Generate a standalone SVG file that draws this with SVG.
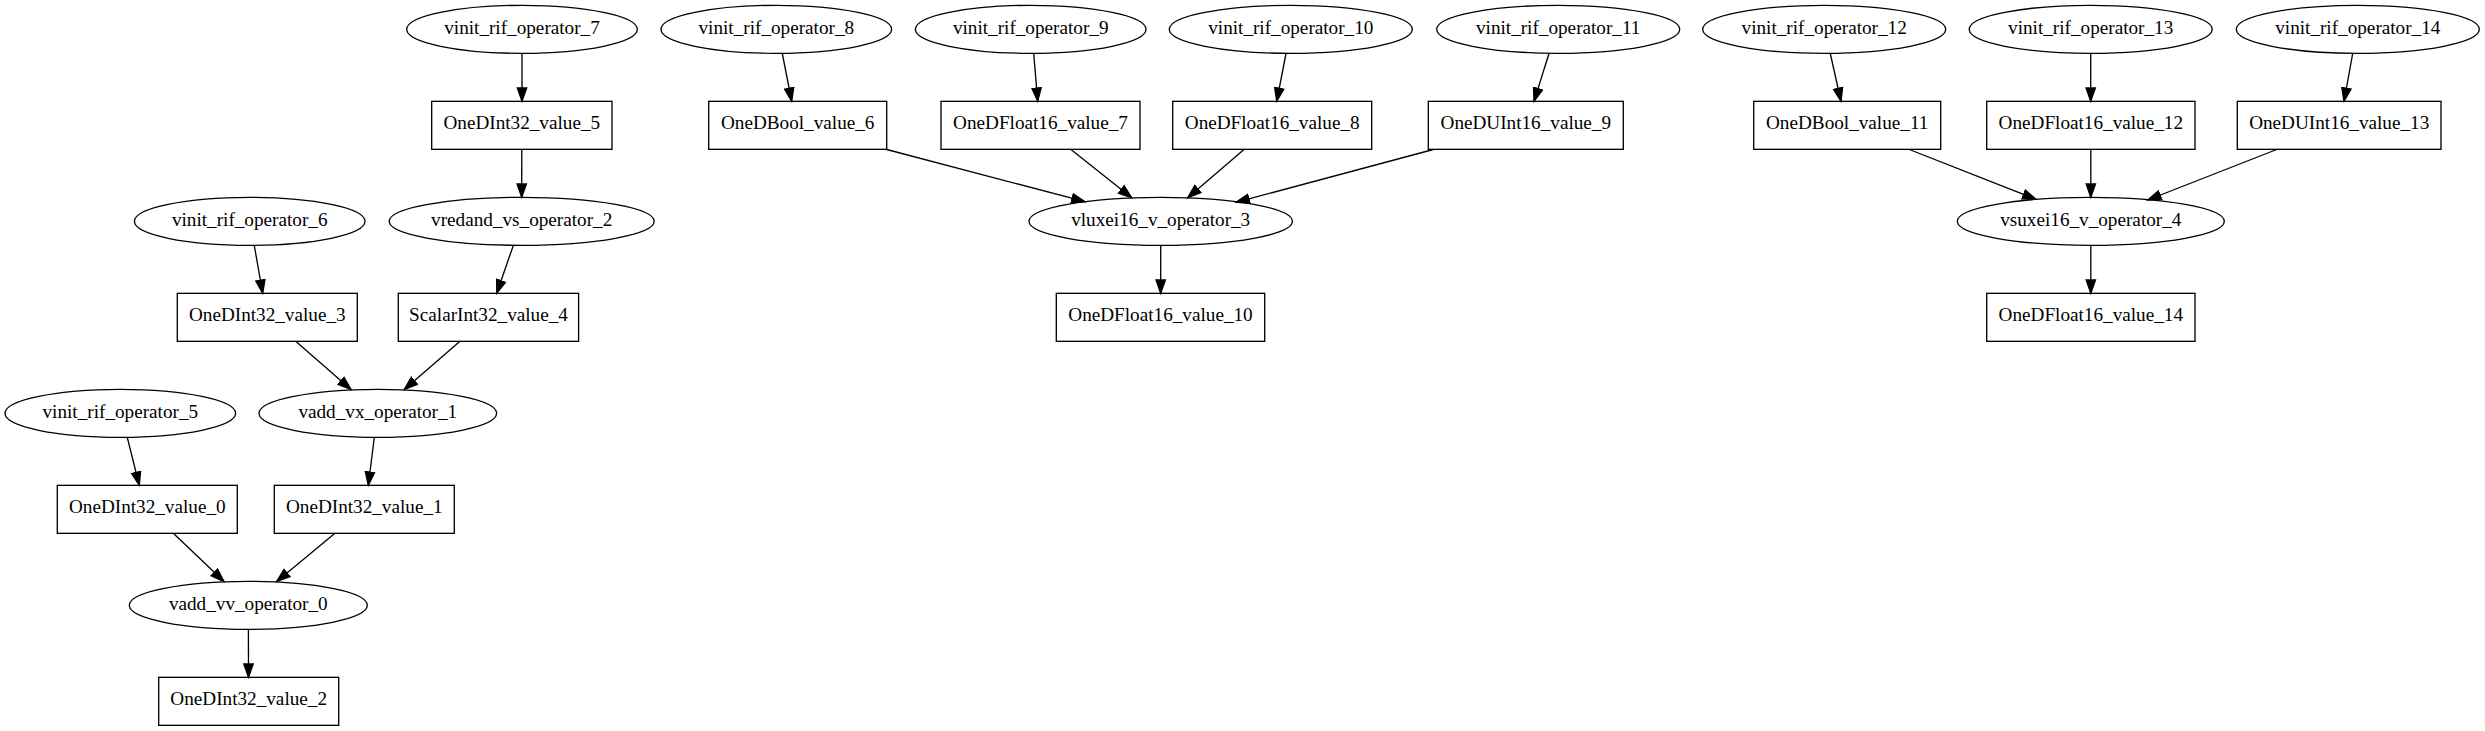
<svg xmlns="http://www.w3.org/2000/svg" width="2485" height="731" viewBox="0 0 2485 731">
<style>
.n ellipse, .n rect { fill: none; stroke: #000; stroke-width: 1.33; }
.n text { font-family: "Liberation Serif", "Times New Roman", serif; font-size: 19.2px; text-anchor: middle; fill: #000; }
#edges line { stroke: #000; stroke-width: 1.33; marker-end: url(#arr); }
</style>
<defs>
<marker id="arr" markerWidth="16" markerHeight="12" refX="14" refY="6" orient="auto" markerUnits="userSpaceOnUse" viewBox="0 0 16 12">
<path d="M0.67,1.33 L14,6 L0.67,10.67 z" fill="#000" stroke="#000" stroke-width="1.33"/>
</marker>
</defs>
<rect x="0" y="0" width="2485" height="731" fill="#fff"/>

<g id="edges">
<line x1="522" y1="53.5" x2="522" y2="101.33"/>
<line x1="521.8" y1="149.33" x2="521.7" y2="197.33"/>
<line x1="254.3" y1="245.5" x2="262.7" y2="293.33"/>
<line x1="513.3" y1="245.5" x2="496.7" y2="293.33"/>
<line x1="295.7" y1="341.33" x2="351" y2="389.5"/>
<line x1="460" y1="341.33" x2="404.3" y2="389.5"/>
<line x1="127.3" y1="437.5" x2="139.3" y2="485.33"/>
<line x1="374.3" y1="437.5" x2="368.3" y2="485.33"/>
<line x1="173.3" y1="533.33" x2="224" y2="581.5"/>
<line x1="335" y1="533.33" x2="276.7" y2="581.5"/>
<line x1="248.4" y1="629.33" x2="248.5" y2="677.33"/>
<line x1="782.3" y1="53.5" x2="791.7" y2="101.33"/>
<line x1="1033.7" y1="53.5" x2="1037.7" y2="101.33"/>
<line x1="1286" y1="53.5" x2="1276.7" y2="101.33"/>
<line x1="1549" y1="53.5" x2="1534" y2="101.33"/>
<line x1="886.7" y1="149.5" x2="1085" y2="201.7"/>
<line x1="1071" y1="149.5" x2="1131.7" y2="197.7"/>
<line x1="1244" y1="149.5" x2="1187.7" y2="197.7"/>
<line x1="1433.3" y1="149.5" x2="1236" y2="202.3"/>
<line x1="1160.7" y1="245.5" x2="1160.7" y2="293.33"/>
<line x1="1830.3" y1="53.5" x2="1841" y2="101.33"/>
<line x1="2090.7" y1="53.5" x2="2090.7" y2="101.33"/>
<line x1="2352.7" y1="53.5" x2="2344" y2="101.33"/>
<line x1="1909.3" y1="149.5" x2="2036" y2="199.3"/>
<line x1="2090.8" y1="149.33" x2="2090.8" y2="197.33"/>
<line x1="2276.7" y1="149.5" x2="2147.7" y2="200"/>
<line x1="2090.8" y1="245.5" x2="2090.8" y2="293.33"/>
</g>

<g id="vinit_rif_operator_7" class="n"><ellipse cx="522" cy="29.33" rx="115.3" ry="24"/><text x="522" y="33.5">vinit_rif_operator_7</text></g>
<g id="OneDInt32_value_5" class="n"><rect x="431.7" y="101.33" width="180.3" height="48"/><text x="521.8" y="129.4">OneDInt32_value_5</text></g>
<g id="vredand_vs_operator_2" class="n"><ellipse cx="521.7" cy="221.33" rx="132.5" ry="24"/><text x="521.7" y="225.5">vredand_vs_operator_2</text></g>
<g id="vinit_rif_operator_6" class="n"><ellipse cx="249.7" cy="221.33" rx="115.3" ry="24"/><text x="249.7" y="225.5">vinit_rif_operator_6</text></g>
<g id="OneDInt32_value_3" class="n"><rect x="177.3" y="293.33" width="180" height="48"/><text x="267.3" y="321.4">OneDInt32_value_3</text></g>
<g id="ScalarInt32_value_4" class="n"><rect x="398.3" y="293.33" width="180.3" height="48"/><text x="488.5" y="321.4">ScalarInt32_value_4</text></g>
<g id="vinit_rif_operator_5" class="n"><ellipse cx="120.3" cy="413.33" rx="115.3" ry="24"/><text x="120.3" y="417.5">vinit_rif_operator_5</text></g>
<g id="vadd_vx_operator_1" class="n"><ellipse cx="377.8" cy="413.33" rx="118.8" ry="24"/><text x="377.8" y="417.5">vadd_vx_operator_1</text></g>
<g id="OneDInt32_value_0" class="n"><rect x="57.3" y="485.33" width="180" height="48"/><text x="147.3" y="513.4">OneDInt32_value_0</text></g>
<g id="OneDInt32_value_1" class="n"><rect x="274.3" y="485.33" width="180" height="48"/><text x="364.3" y="513.4">OneDInt32_value_1</text></g>
<g id="vadd_vv_operator_0" class="n"><ellipse cx="248.3" cy="605.33" rx="119" ry="24"/><text x="248.3" y="609.5">vadd_vv_operator_0</text></g>
<g id="OneDInt32_value_2" class="n"><rect x="158.7" y="677.33" width="180" height="48"/><text x="248.7" y="705.4">OneDInt32_value_2</text></g>

<g id="vinit_rif_operator_8" class="n"><ellipse cx="776.3" cy="29.33" rx="115.3" ry="24"/><text x="776.3" y="33.5">vinit_rif_operator_8</text></g>
<g id="vinit_rif_operator_9" class="n"><ellipse cx="1030.7" cy="29.33" rx="115.3" ry="24"/><text x="1030.7" y="33.5">vinit_rif_operator_9</text></g>
<g id="vinit_rif_operator_10" class="n"><ellipse cx="1290.8" cy="29.33" rx="121.5" ry="24"/><text x="1290.8" y="33.5">vinit_rif_operator_10</text></g>
<g id="vinit_rif_operator_11" class="n"><ellipse cx="1558.2" cy="29.33" rx="121.5" ry="24"/><text x="1558.2" y="33.5">vinit_rif_operator_11</text></g>
<g id="OneDBool_value_6" class="n"><rect x="708.7" y="101.33" width="178" height="48"/><text x="797.7" y="129.4">OneDBool_value_6</text></g>
<g id="OneDFloat16_value_7" class="n"><rect x="941" y="101.33" width="199" height="48"/><text x="1040.5" y="129.4">OneDFloat16_value_7</text></g>
<g id="OneDFloat16_value_8" class="n"><rect x="1172.7" y="101.33" width="199" height="48"/><text x="1272.2" y="129.4">OneDFloat16_value_8</text></g>
<g id="OneDUInt16_value_9" class="n"><rect x="1428.3" y="101.33" width="195" height="48"/><text x="1525.8" y="129.4">OneDUInt16_value_9</text></g>
<g id="vluxei16_v_operator_3" class="n"><ellipse cx="1160.7" cy="221.33" rx="131.7" ry="24"/><text x="1160.7" y="225.5">vluxei16_v_operator_3</text></g>
<g id="OneDFloat16_value_10" class="n"><rect x="1056.3" y="293.33" width="208.4" height="48"/><text x="1160.5" y="321.4">OneDFloat16_value_10</text></g>

<g id="vinit_rif_operator_12" class="n"><ellipse cx="1824.2" cy="29.33" rx="121.5" ry="24"/><text x="1824.2" y="33.5">vinit_rif_operator_12</text></g>
<g id="vinit_rif_operator_13" class="n"><ellipse cx="2090.7" cy="29.33" rx="121.5" ry="24"/><text x="2090.7" y="33.5">vinit_rif_operator_13</text></g>
<g id="vinit_rif_operator_14" class="n"><ellipse cx="2357.8" cy="29.33" rx="121.5" ry="24"/><text x="2357.8" y="33.5">vinit_rif_operator_14</text></g>
<g id="OneDBool_value_11" class="n"><rect x="1753.7" y="101.33" width="187" height="48"/><text x="1847.2" y="129.4">OneDBool_value_11</text></g>
<g id="OneDFloat16_value_12" class="n"><rect x="1986.7" y="101.33" width="208.3" height="48"/><text x="2090.8" y="129.4">OneDFloat16_value_12</text></g>
<g id="OneDUInt16_value_13" class="n"><rect x="2237.3" y="101.33" width="203.7" height="48"/><text x="2339.2" y="129.4">OneDUInt16_value_13</text></g>
<g id="vsuxei16_v_operator_4" class="n"><ellipse cx="2090.8" cy="221.33" rx="133.5" ry="24"/><text x="2090.8" y="225.5">vsuxei16_v_operator_4</text></g>
<g id="OneDFloat16_value_14" class="n"><rect x="1986.7" y="293.33" width="208.3" height="48"/><text x="2090.8" y="321.4">OneDFloat16_value_14</text></g>
</svg>
